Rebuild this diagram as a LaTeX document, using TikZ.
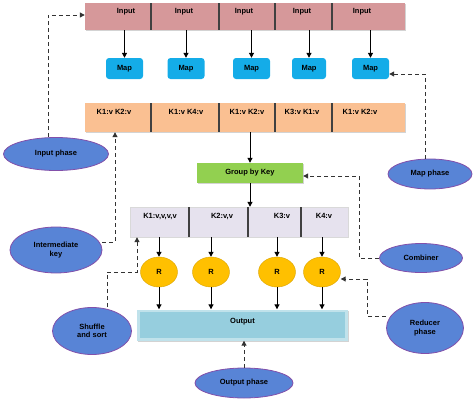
\documentclass[tikz,border=0pt]{standalone}
\usepackage{fontspec}
\setmainfont{Liberation Sans}
\usetikzlibrary{arrows.meta,shapes.geometric,shadows}
\definecolor{inpink}{RGB}{214,152,154}
\definecolor{mapblue}{RGB}{20,172,232}
\definecolor{kvorange}{RGB}{250,192,146}
\definecolor{grpgreen}{RGB}{146,208,80}
\definecolor{lav}{RGB}{230,226,238}
\definecolor{ryellow}{RGB}{255,192,0}
\definecolor{outblue}{RGB}{150,206,222}
\definecolor{phblue}{RGB}{88,132,214}
\definecolor{phborder}{RGB}{130,80,170}
\tikzset{
  txt/.style={font=\fontsize{7.5}{8.5}\selectfont\bfseries},
  lbl/.style={txt, text=black, align=center, inner sep=0pt},
  barbox/.style={rectangle, inner sep=0pt, drop shadow={opacity=0.35, shadow xshift=1pt, shadow yshift=-1pt}},
  divider/.style={draw=black!75, line width=1.1pt},
  mapbox/.style={rectangle, rounded corners=3pt, fill=mapblue, minimum width=37pt, minimum height=21pt, inner sep=0pt, txt},
  rcirc/.style={ellipse, fill=ryellow, draw=ryellow!85!black, line width=0.4pt, minimum width=37pt, minimum height=30pt, inner sep=0pt, txt},
  phase/.style={ellipse, fill=phblue, draw=phborder, line width=0.8pt, inner sep=0pt, align=center, txt},
  flow/.style={-{Triangle[length=5pt,width=5pt]}, line width=1pt, black},
  dashlink/.style={-{Triangle[length=5pt,width=5pt]}, line width=1pt, black!80, dash pattern=on 4pt off 3pt}
}
\begin{document}
\begin{tikzpicture}[x=1pt,y=-1pt]
\useasboundingbox (0,0) rectangle (474,402);
% ---- input bar
\node[barbox, fill=inpink, minimum width=320pt, minimum height=27pt] (inbar) at (245,16.5) {};
\foreach \x in {151,219,275,332} \draw[divider] (\x,3) -- (\x,30);
\node[lbl] (in1) at (126,12) {Input};
\node[lbl] (in2) at (184,12) {Input};
\node[lbl] (in3) at (244,12) {Input};
\node[lbl] (in4) at (302,12) {Input};
\node[lbl] (in5) at (362,12) {Input};
% ---- map boxes
\node[mapbox] (m1) at (124.5,68.5) {Map};
\node[mapbox] (m2) at (186,68.5) {Map};
\node[mapbox] (m3) at (251.5,68.5) {Map};
\node[mapbox, minimum width=34pt] (m4) at (309,68.5) {Map};
\node[mapbox] (m5) at (370.5,68.5) {Map};
\foreach \i in {1,...,5} \draw[flow] (m\i.north |- inbar.south) -- (m\i.north);
% ---- key/value bar
\node[barbox, fill=kvorange, minimum width=320pt, minimum height=29pt] (kvbar) at (245,117.5) {};
\foreach \x in {151,219,275,332} \draw[divider] (\x,103) -- (\x,132);
\node[lbl] (kv1) at (114,112) {K1:v K2:v};
\node[lbl] (kv2) at (186,112) {K1:v K4:v};
\node[lbl] (kv3) at (247,112) {K1:v K2:v};
\node[lbl] (kv4) at (302,112) {K3:v K1:v};
\node[lbl] (kv5) at (360,112) {K1:v K2:v};
% ---- group by key
\node[barbox, fill=grpgreen, minimum width=106pt, minimum height=20pt, txt] (grp) at (250,173) {Group by Key};
\draw[flow] (grp.north |- kvbar.south) -- (grp.north);
% ---- grouped bar
\node[barbox, fill=lav, draw=black!15, minimum width=218pt, minimum height=30pt] (gbar) at (239,222) {};
\foreach \x in {189,248,301} \draw[divider] (\x,207) -- (\x,237);
\node[lbl] (g1) at (160,216) {K1:v,v,v,v};
\node[lbl] (g2) at (222,216) {K2:v,v};
\node[lbl] (g3) at (282,216) {K3:v};
\node[lbl] (g4) at (324,216) {K4:v};
\draw[flow] (grp.south) -- (grp.south |- gbar.north);
% ---- reducers
\node[rcirc] (r1) at (159,272) {R};
\node[rcirc] (r2) at (211,272) {R};
\node[rcirc] (r3) at (277,272) {R};
\node[rcirc] (r4) at (322,272) {R};
\foreach \i in {1,...,4} \draw[flow] (r\i.north |- gbar.south) -- (r\i.north);
% ---- output
\node[barbox, fill=outblue!60, minimum width=211pt, minimum height=31pt] (out) at (242.5,325) {};
\fill[outblue] ([shift={(3pt,-3pt)}]out.north west) rectangle ([shift={(-3pt,3pt)}]out.south east);
\node[lbl] (outt) at (242.5,322) {Output};
\foreach \i in {1,...,4} \draw[flow] (r\i.south) -- (r\i.south |- out.north);
% ---- phases
\node[phase, minimum width=105pt, minimum height=33pt] (pin) at (56,154) {Input phase};
\node[phase, minimum width=84pt, minimum height=30pt] (pmap) at (430,174) {Map phase};
\node[phase, minimum width=92pt, minimum height=46pt] (pint) at (56,250) {Intermediate\\key};
\node[phase, minimum width=83pt, minimum height=29pt] (pcomb) at (421,258) {Combiner};
\node[phase, minimum width=79pt, minimum height=47pt] (pshuf) at (92,331) {Shuffle\\and sort};
\node[phase, minimum width=77pt, minimum height=51pt] (pred) at (425,328) {Reducer\\phase};
\node[phase, minimum width=98pt, minimum height=30pt] (pout) at (244,383) {Output phase};
% ---- dashed connectors
\coordinate (c1) at (48,15);
\draw[dashlink] (pin.north -| c1) -- (c1) -- (c1 -| inbar.west);
\coordinate (c2) at (425,74);
\draw[dashlink] (pmap.north -| c2) -- (c2) -- (m5.east |- c2);
\coordinate (c3) at (115,242);
\draw[dashlink] (pint.east |- c3) -- (c3) -- (c3 |- kvbar.south);
\coordinate (c4) at (359,176);
\draw[dashlink] (pcomb.west) -- (pcomb.west -| c4) -- (c4) -- (grp.east |- c4);
\coordinate (c5) at (107,272);
\coordinate (c6) at (137,272);
\draw[dashlink] (pshuf.north -| c5) -- (c5) -- (c6) -- (c6 |- gbar.south);
\coordinate (c7) at (367,316);
\coordinate (c8) at (367,279);
\draw[dashlink] (pred.west |- c7) -- (c7) -- (c8) -- (r4.east |- c8);
\draw[dashlink] (pout.north) -- (pout.north |- out.south);
\end{tikzpicture}
\end{document}
